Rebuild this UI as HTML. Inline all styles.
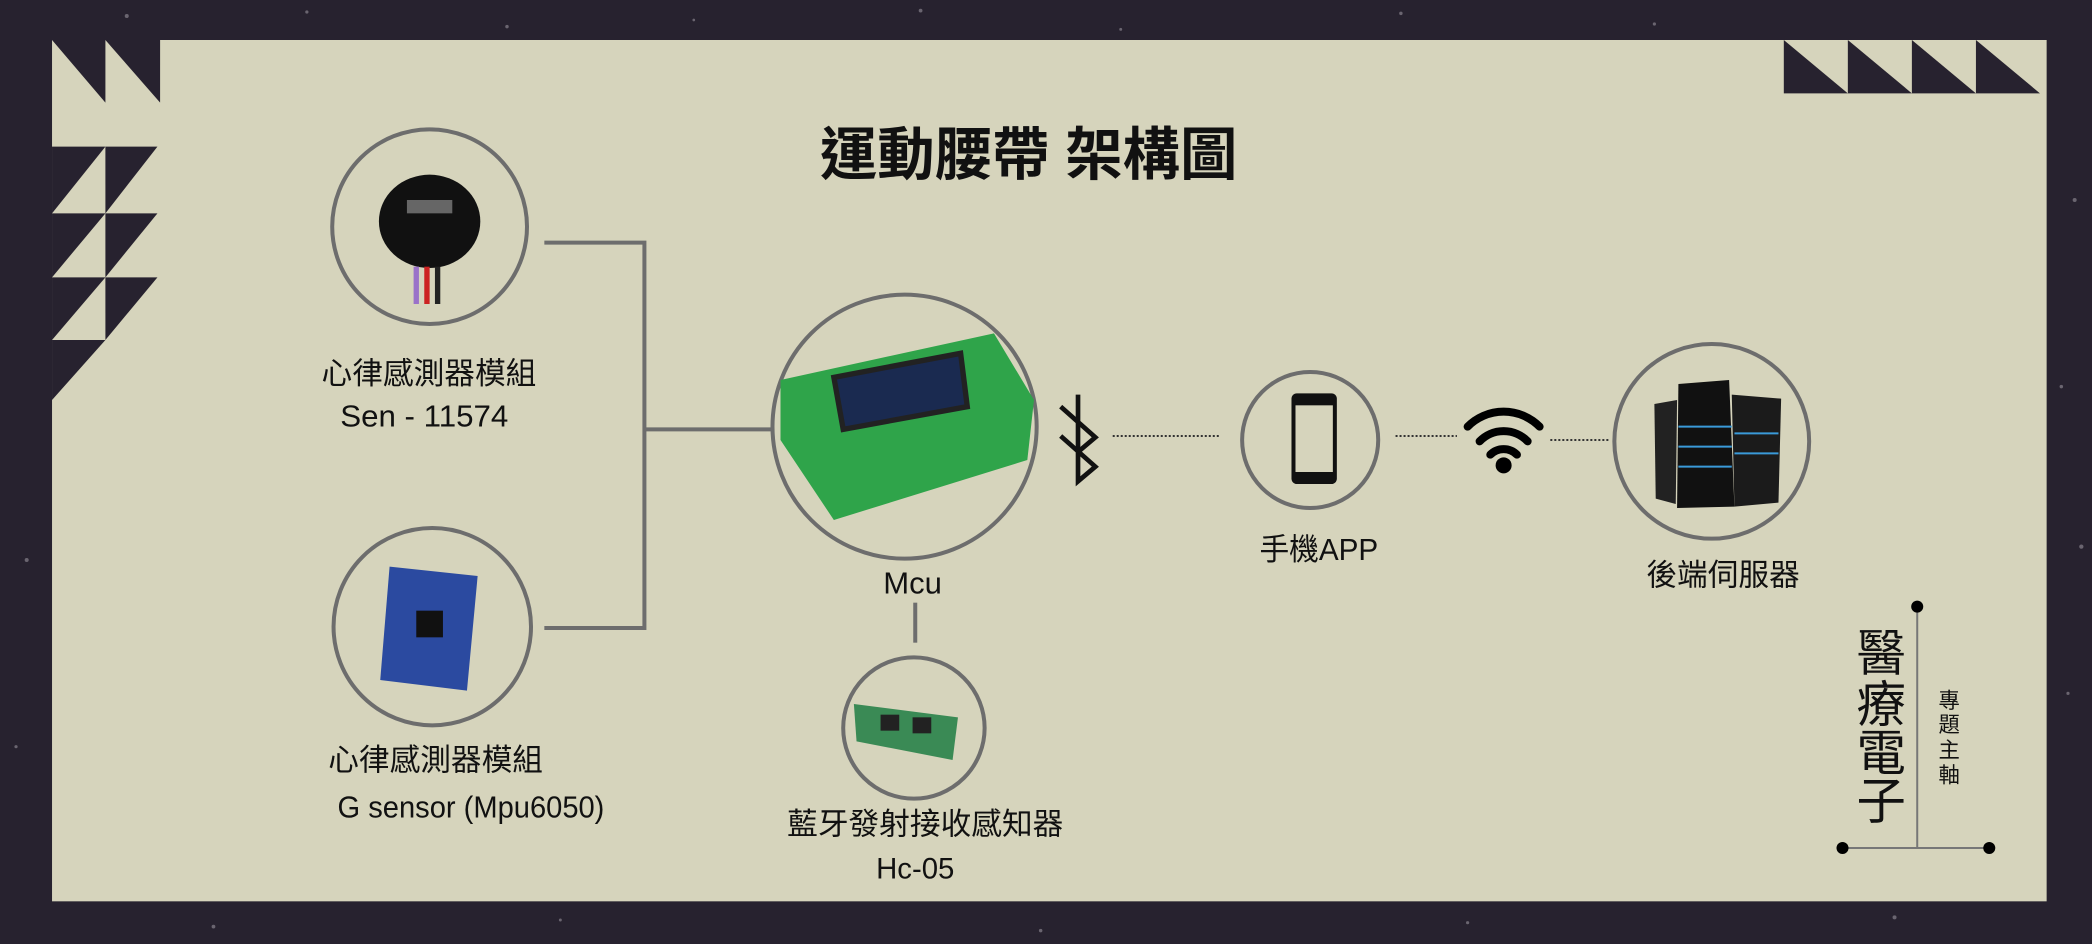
<!DOCTYPE html>
<html><head><meta charset="utf-8"><style>
html,body{margin:0;padding:0;background:#27222f;}
svg{display:block;}
text{font-family:"Liberation Sans","Noto Sans CJK TC",sans-serif;fill:#111;}
</style></head><body>
<svg width="2092" height="944" viewBox="0 0 1568 708" preserveAspectRatio="none" xmlns="http://www.w3.org/2000/svg">
<rect width="1568" height="708" fill="#27222f"/>
<g fill="#6a6570">
<circle cx="95" cy="12" r="1.5"/><circle cx="230" cy="9" r="1.2"/><circle cx="380" cy="20" r="1.3"/><circle cx="520" cy="15" r="1"/><circle cx="690" cy="8" r="1.4"/><circle cx="840" cy="22" r="1.1"/><circle cx="1050" cy="10" r="1.3"/><circle cx="1240" cy="18" r="1.2"/><circle cx="1555" cy="150" r="1.5"/><circle cx="1545" cy="290" r="1.3"/><circle cx="1560" cy="410" r="1.6"/><circle cx="1550" cy="520" r="1.2"/><circle cx="20" cy="420" r="1.5"/><circle cx="12" cy="560" r="1.2"/><circle cx="160" cy="695" r="1.4"/><circle cx="420" cy="690" r="1.1"/><circle cx="780" cy="698" r="1.3"/><circle cx="1100" cy="692" r="1.2"/><circle cx="1420" cy="688" r="1.5"/>
</g>
<rect x="39" y="30" width="1495" height="646" fill="#d6d4bc"/>
<g fill="#27222f">
<polygon points="39,30 79,30 79,77"/><polygon points="79,30 120,30 120,77"/>
<polygon points="39,110 79,110 39,160"/><polygon points="79,110 118,110 79,160"/>
<polygon points="39,160 79,160 39,208"/><polygon points="79,160 118,160 79,208"/>
<polygon points="39,208 79,208 39,255"/><polygon points="79,208 118,208 79,255"/>
<polygon points="39,255 79,255 39,300"/>
</g>
<g fill="#27222f">
<polygon points="1337,30 1385,70 1337,70"/><polygon points="1385,30 1433,70 1385,70"/>
<polygon points="1433,30 1481,70 1433,70"/><polygon points="1481,30 1529,70 1481,70"/>
</g>
<text x="771" y="131" font-size="43" font-weight="bold" text-anchor="middle">運動腰帶 架構圖</text>
<g stroke="#6d6d6d" stroke-width="3" fill="none">
<polyline points="408,182 483,182 483,471 408,471"/>
<line x1="483" y1="322" x2="578" y2="322"/>
<line x1="686" y1="452" x2="686" y2="482"/>
<circle cx="322" cy="170" r="73"/>
<circle cx="324" cy="470" r="74"/>
<circle cx="678" cy="320" r="99"/>
<circle cx="685" cy="546" r="53"/>
<circle cx="982" cy="330" r="51"/>
<circle cx="1283" cy="331" r="73"/>
</g>
<g stroke="#333" stroke-width="1.5" stroke-dasharray="1.5,1.5">
<line x1="834" y1="327" x2="915" y2="327"/><line x1="1046" y1="327" x2="1092" y2="327"/><line x1="1162" y1="330" x2="1207" y2="330"/>
</g>
<ellipse cx="322" cy="166" rx="38" ry="35" fill="#111"/>
<rect x="305" y="150" width="34" height="10" fill="#bbb" opacity=".5"/>
<rect x="310" y="200" width="4" height="28" fill="#9a72c9"/><rect x="318" y="200" width="4" height="28" fill="#c22"/><rect x="326" y="200" width="4" height="28" fill="#222"/>
<polygon points="292,425 358,432 350,518 285,510" fill="#2b4aa0"/>
<rect x="312" y="458" width="20" height="20" fill="#111"/>
<polygon points="585,285 745,250 775,300 770,345 625,390 585,330" fill="#2fa44a"/>
<polygon points="625,283 720,265 725,305 632,322" fill="#1a2a50" stroke="#222" stroke-width="4"/>
<polygon points="640,528 718,538 714,570 642,556" fill="#3a8a55"/>
<rect x="660" y="536" width="14" height="12" fill="#222"/><rect x="684" y="538" width="14" height="12" fill="#222"/>
<polyline points="795,305 821,328 808,339 808,361 821,350 795,327" fill="none" stroke="#111" stroke-width="3.5"/>
<line x1="808" y1="296" x2="808" y2="339" stroke="#111" stroke-width="3.5"/>
<rect x="968" y="295" width="34" height="68" rx="4" fill="#111"/>
<rect x="971" y="304" width="28" height="50" fill="#d6d4bc"/>
<g fill="none" stroke="#000" stroke-width="6" stroke-linecap="round">
<path d="M1100,320 A38,38 0 0 1 1154,320"/><path d="M1109,331 A25,25 0 0 1 1145,331"/><path d="M1117,341 A14,14 0 0 1 1137,341"/>
</g>
<ellipse cx="1127" cy="349" rx="6" ry="6" fill="#000"/>
<polygon points="1240,303 1257,300 1256,378 1241,374" fill="#222"/>
<polygon points="1258,288 1296,285 1300,380 1257,381" fill="#111"/>
<polygon points="1298,296 1335,299 1333,377 1300,380" fill="#1b1b1b"/>
<g stroke="#3a9ad8" stroke-width="1.5"><line x1="1258" y1="320" x2="1298" y2="320"/><line x1="1258" y1="335" x2="1298" y2="335"/><line x1="1258" y1="350" x2="1298" y2="350"/><line x1="1300" y1="325" x2="1333" y2="325"/><line x1="1300" y1="340" x2="1333" y2="340"/></g>
<g font-size="23">
<text x="241" y="288" textLength="161" lengthAdjust="spacingAndGlyphs">心律感測器模組</text>
<text x="255" y="320" textLength="126" lengthAdjust="spacingAndGlyphs">Sen - 11574</text>
<text x="246" y="578" textLength="161" lengthAdjust="spacingAndGlyphs">心律感測器模組</text>
<text x="253" y="613" textLength="200" lengthAdjust="spacingAndGlyphs">G sensor (Mpu6050)</text>
<text x="662" y="445" textLength="44" lengthAdjust="spacingAndGlyphs">Mcu</text>
<text x="590" y="626" textLength="207" lengthAdjust="spacingAndGlyphs">藍牙發射接收感知器</text>
<text x="686" y="659" text-anchor="middle" font-size="22">Hc-05</text>
<text x="944" y="420" textLength="89" lengthAdjust="spacingAndGlyphs">手機APP</text>
<text x="1234" y="439" textLength="115" lengthAdjust="spacingAndGlyphs">後端伺服器</text>
</g>
<g stroke="#777" stroke-width="1.5"><line x1="1437" y1="455" x2="1437" y2="636"/><line x1="1381" y1="636" x2="1491" y2="636"/></g>
<g fill="#000"><circle cx="1437" cy="455" r="4.5"/><circle cx="1381" cy="636" r="4.5"/><circle cx="1491" cy="636" r="4.5"/></g>
<g font-size="37" text-anchor="middle"><text x="1410" y="503">醫</text><text x="1410" y="541">療</text><text x="1410" y="578">電</text><text x="1410" y="614">子</text></g>
<g font-size="16" text-anchor="middle"><text x="1461" y="531">專</text><text x="1461" y="549">題</text><text x="1461" y="568">主</text><text x="1461" y="587">軸</text></g>
</svg>
</body></html>
